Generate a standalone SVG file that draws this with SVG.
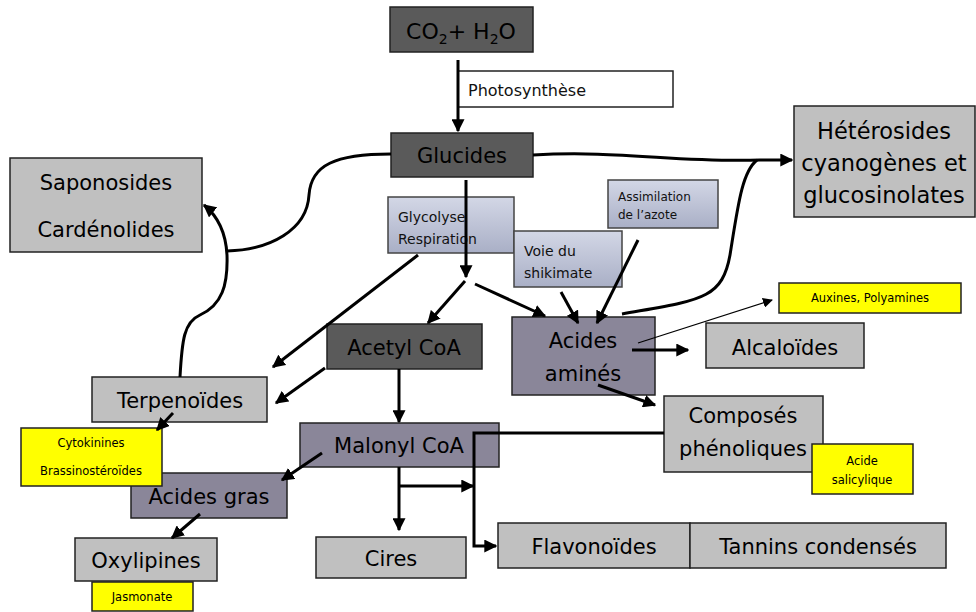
<svg xmlns="http://www.w3.org/2000/svg" width="976" height="612" viewBox="0 0 976 612">
<defs>
<linearGradient id="blu" x1="0" y1="0" x2="0" y2="1">
<stop offset="0" stop-color="#d3d7e6"/>
<stop offset="1" stop-color="#a9afc6"/>
</linearGradient>
<marker id="ah" viewBox="0 0 10 10" refX="9" refY="5" markerWidth="13" markerHeight="13" markerUnits="userSpaceOnUse" orient="auto">
<path d="M0,0 L10,5 L0,10 z" fill="#000"/>
</marker>
<marker id="ahs" viewBox="0 0 10 10" refX="9" refY="5" markerWidth="10" markerHeight="10" markerUnits="userSpaceOnUse" orient="auto">
<path d="M0,0 L10,5 L0,10 z" fill="#000"/>
</marker>
</defs>
<style>
rect{stroke:#222;stroke-width:1.5}
.dk{fill:#5a5a5a}
.lg{fill:#c0c0c0}
.pu{fill:#8a8699}
.ye{fill:#ffff00}
.bl{fill:url(#blu);stroke:#444}
.wh{fill:#fff}
text{font-family:"Comic Sans MS","DejaVu Sans",sans-serif;fill:#000;text-anchor:middle}
.m{font-size:21px}
.s{font-size:11.5px}
.v{font-family:"DejaVu Sans",Verdana,sans-serif;text-anchor:start;font-size:14px;fill:#111}
.c path,.c line,.c polyline{fill:none;stroke:#000;stroke-width:3}
</style>
<rect width="976" height="612" fill="#fff" style="stroke:none"/>

<g id="co2"><rect class="dk" x="390" y="7" width="143" height="45"/><text class="m" x="461" y="39" style="font-size:22px">CO<tspan dy="5" font-size="14">2</tspan><tspan dy="-5">+ H</tspan><tspan dy="5" font-size="14">2</tspan><tspan dy="-5">O</tspan></text></g>
<g id="photosynthese"><rect class="wh" x="458" y="71" width="215" height="36"/><text class="v" x="468" y="96" style="font-size:16px">Photosynthèse</text></g>
<g id="glucides"><rect class="dk" x="391" y="133" width="142" height="44"/><text class="m" x="462" y="163">Glucides</text></g>
<g id="glycolyse"><rect class="bl" x="388" y="197" width="126" height="56"/><text class="v" x="398" y="222">Glycolyse</text><text class="v" x="398" y="244">Respiration</text></g>
<g id="shikimate"><rect class="bl" x="514" y="231" width="108" height="56"/><text class="v" x="524" y="256">Voie du</text><text class="v" x="524" y="278">shikimate</text></g>
<g id="azote"><rect class="bl" x="608" y="180" width="110" height="48"/><text class="v" x="618" y="201" style="font-size:12px">Assimilation</text><text class="v" x="618" y="219" style="font-size:12px">de l’azote</text></g>
<g id="saponosides"><rect class="lg" x="10" y="158" width="192" height="94"/><text class="m" x="106" y="190">Saponosides</text><text class="m" x="106" y="237">Cardénolides</text></g>
<g id="heterosides"><rect class="lg" x="794" y="106" width="181" height="111"/><text class="m" x="884" y="139" style="font-size:22.5px">Hétérosides</text><text class="m" x="884" y="171" style="font-size:22.5px">cyanogènes et</text><text class="m" x="884" y="203" style="font-size:22.5px">glucosinolates</text></g>
<g id="acetyl"><rect class="dk" x="327" y="324" width="155" height="45"/><text class="m" x="404" y="355">Acetyl CoA</text></g>
<g id="acides-amines"><rect class="pu" x="512" y="317" width="143" height="78"/><text class="m" x="583" y="348">Acides</text><text class="m" x="583" y="381">aminés</text></g>
<g id="alcaloides"><rect class="lg" x="706" y="323" width="158" height="45"/><text class="m" x="785" y="355">Alcaloïdes</text></g>
<g id="auxines"><rect class="ye" x="779" y="283" width="182" height="30"/><text class="s" x="870" y="302">Auxines, Polyamines</text></g>
<g id="terpenoides"><rect class="lg" x="92" y="377" width="175" height="45"/><text class="m" x="180" y="408">Terpenoïdes</text></g>
<g id="acides-gras"><rect class="pu" x="131" y="473" width="156" height="45"/><text class="m" x="209" y="504">Acides gras</text></g>
<g id="cytokinines"><rect class="ye" x="21" y="428" width="141" height="58"/><text class="s" x="91" y="447">Cytokinines</text><text class="s" x="91" y="475">Brassinostéroïdes</text></g>
<g id="malonyl"><rect class="pu" x="300" y="423" width="199" height="44"/><text class="m" x="399" y="453">Malonyl CoA</text></g>
<g id="composes"><rect class="lg" x="664" y="396" width="159" height="76"/><text class="m" x="743" y="423">Composés</text><text class="m" x="743" y="456">phénoliques</text></g>
<g id="salicylique"><rect class="ye" x="812" y="444" width="101" height="50"/><text class="s" x="862" y="465">Acide</text><text class="s" x="862" y="484">salicylique</text></g>
<g id="oxylipines"><rect class="lg" x="75" y="538" width="142" height="43"/><text class="m" x="146" y="568">Oxylipines</text></g>
<g id="jasmonate"><rect class="ye" x="92" y="582" width="101" height="29"/><text class="s" x="142" y="601">Jasmonate</text></g>
<g id="cires"><rect class="lg" x="316" y="537" width="150" height="41"/><text class="m" x="391" y="566">Cires</text></g>
<g id="flavonoides"><rect class="lg" x="498" y="523" width="192" height="45"/><text class="m" x="594" y="554">Flavonoïdes</text></g>
<g id="tannins"><rect class="lg" x="690" y="523" width="256" height="45"/><text class="m" x="818" y="554">Tannins condensés</text></g>

<g class="c" id="connectors">
<line x1="458" y1="60" x2="458" y2="131" marker-end="url(#ah)"/>
<path d="M533,155 C620,150 680,163 760,160 L792,160" marker-end="url(#ah)"/>
<path d="M622,314 C700,300 722,300 730,255 C738,205 742,172 757,160"/>
<path d="M391,154 C335,154 311,165 309,195 C307,230 270,250 227,251"/>
<path d="M180,377 C182,340 184,322 200,315 C222,305 228,285 227,255 C226,235 220,218 204,205" marker-end="url(#ah)"/>
<line x1="466" y1="180" x2="466" y2="277" marker-end="url(#ah)"/>
<line x1="418" y1="255" x2="273" y2="367" marker-end="url(#ah)"/>
<line x1="465" y1="281" x2="428" y2="323" marker-end="url(#ah)"/>
<line x1="475" y1="284" x2="545" y2="316" marker-end="url(#ah)"/>
<line x1="561" y1="292" x2="578" y2="323" marker-end="url(#ah)"/>
<line x1="638" y1="240" x2="597" y2="323" marker-end="url(#ah)"/>
<line x1="632" y1="350" x2="688" y2="350" marker-end="url(#ah)"/>
<line x1="638" y1="343" x2="772" y2="300" style="stroke-width:1.3" marker-end="url(#ahs)"/>
<line x1="598" y1="385" x2="655" y2="405" marker-end="url(#ah)"/>
<line x1="325" y1="368" x2="276" y2="403" marker-end="url(#ah)"/>
<line x1="399" y1="369" x2="399" y2="422" marker-end="url(#ah)"/>
<line x1="173" y1="413" x2="157" y2="430" marker-end="url(#ah)"/>
<line x1="322" y1="453" x2="282" y2="480" marker-end="url(#ah)"/>
<line x1="200" y1="514" x2="172" y2="538" marker-end="url(#ah)"/>
<line x1="399" y1="467" x2="399" y2="530" marker-end="url(#ah)"/>
<line x1="399" y1="486" x2="473" y2="486" marker-end="url(#ah)"/>
<polyline points="664,433 474,433 474,546 496,546" marker-end="url(#ah)"/>
</g>
</svg>
